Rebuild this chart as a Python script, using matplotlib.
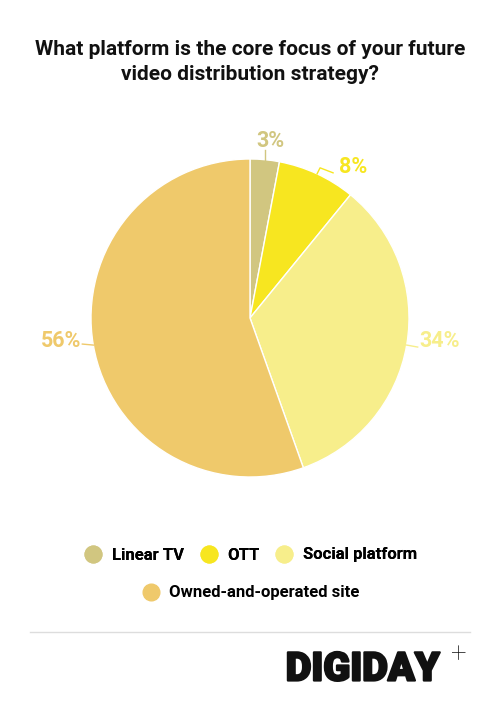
import numpy as np
import matplotlib
matplotlib.use("Agg")
import matplotlib.pyplot as plt
from matplotlib.lines import Line2D
import matplotlib.patheffects as pe

plt.rcParams['font.family'] = ['Roboto', 'DejaVu Sans']

# data
labels = ["Linear TV", "OTT", "Social platform", "Owned-and-operated site"]
values = [3, 8, 34, 56]
colors = ["#d1c680", "#f7e620", "#f7ee8b", "#efc96b"]
title = "What platform is the core focus of your future\nvideo distribution strategy?"

W, H = 500, 705
fig = plt.figure(figsize=(W / 100, H / 100), dpi=100)
ax = fig.add_axes([0, 0, 1, 1])

cx, cy, R = 250, H - 318, 159
wedges, _ = ax.pie(values, colors=colors, startangle=90, counterclock=False,
                   center=(cx, cy), radius=R, frame=True,
                   wedgeprops=dict(edgecolor="white", linewidth=1))
ax.set_xlim(0, W)
ax.set_ylim(0, H)
ax.axis("off")

# label leader lines: (offsets from edge point in px)
total = sum(values)
cum = np.cumsum([0] + values[:-1])
leaders = [
    [(0, 0), (0, 10)],
    [(0, 0), (3, 6), (16, 1)],
    [(0, 0), (11, -2)],
    [(0, 0), (-11, 1)],
]
text_off = [(6, 19, "center"), (22, 7, "left"), (13, 4, "left"), (-12, 4, "right")]
for i, v in enumerate(values):
    mid = (cum[i] + v / 2) / total * 2 * np.pi
    ex = cx + R * np.sin(mid)
    ey = cy + R * np.cos(mid)
    pts = np.array(leaders[i], dtype=float)
    ax.plot(ex + pts[:, 0], ey + pts[:, 1], color=colors[i], lw=1)
    dx, dy, ha = text_off[i]
    ax.text(ex + dx, ey + dy, f"{v}%", color=colors[i], fontsize=15.5,
            fontweight="bold", ha=ha, va="center")

fig.text(0.5, 1 - 62 / H, title, ha="center", va="center", fontsize=15,
         fontweight="bold", linespacing=1.4, color="#111111")

# legend
handles = [Line2D([], [], marker="o", ls="", markersize=12, color=c) for c in colors]
leg1 = fig.legend(handles[:3], labels[:3], loc="center", ncol=3,
                  bbox_to_anchor=(0.5, 1 - 555 / H), frameon=False,
                  prop=dict(weight="bold", size=12), handletextpad=0.5,
                  columnspacing=0.9, handlelength=1.2)
leg2 = fig.legend(handles[3:], labels[3:], loc="center",
                  bbox_to_anchor=(0.5, 1 - 593 / H), frameon=False,
                  prop=dict(weight="bold", size=12), handletextpad=0.5,
                  handlelength=1.2)
fig.add_artist(leg1)

ax.plot([30, 470], [H - 632, H - 632], color="#dddddd", lw=1)

fig.text(440 / W, 1 - 669 / H, "DIGIDAY", ha="right", va="center",
         fontsize=28.5, fontweight="black", color="#111111",
         path_effects=[pe.withStroke(linewidth=1.6, foreground="#111111")])
fig.text(458 / W, 1 - 655 / H, "+", ha="center", va="center",
         fontsize=20, fontweight="light", color="#111111")

fig.savefig("out.png", dpi=100, facecolor="white")
